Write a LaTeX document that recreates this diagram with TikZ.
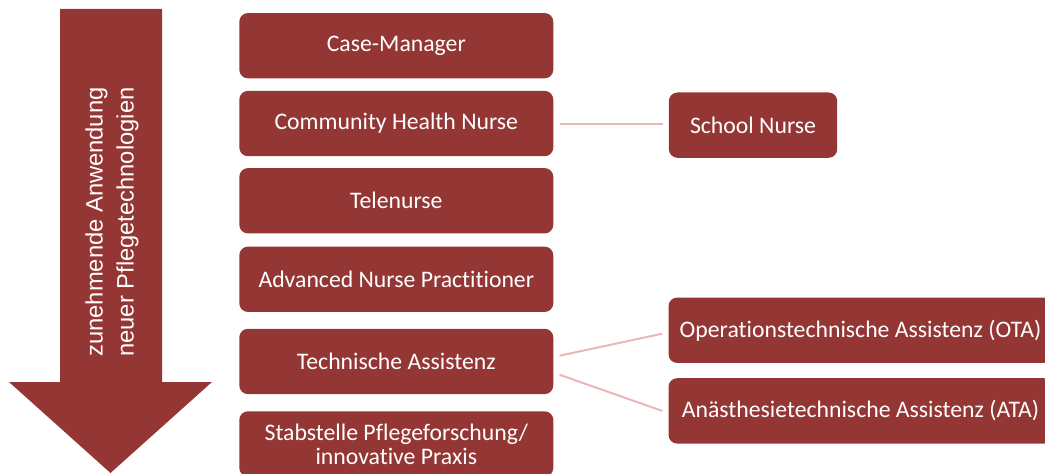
\documentclass[tikz,border=0pt]{standalone}
\usepackage{fontspec}
\setmainfont{Carlito}[Ligatures=NoCommon]
\newfontfamily\arrowfont{Liberation Sans}
\usetikzlibrary{positioning}
\definecolor{boxred}{HTML}{943634}
\definecolor{linkpink}{HTML}{E6B9B8}

\begin{document}
\begin{tikzpicture}[x=0.75pt, y=-0.75pt,
    node distance=9pt and 86pt,
    box/.style={fill=boxred, rounded corners=6.5pt, text=white, align=center,
      inner sep=0pt, minimum height=49pt, minimum width=#1,
      font=\fontsize{17.8}{21}\selectfont},
    box/.default=235.5pt,
    link/.style={draw=linkpink, line width=1.5pt}]
    \useasboundingbox (0,0) rectangle (1045,474);
    \clip (0,0) rectangle (1045,474);
    % big arrow on the left
    \fill[boxred] (60,9) -- (162,9) -- (162,382) -- (212,382) -- (110.5,473)
      -- (9,382) -- (60,382) -- cycle;
    \node[rotate=90, align=center, text=white,
      font=\arrowfont\fontsize{17.8}{23.3}\selectfont] (trend) at (112,222)
      {zunehmende Anwendung\\neuer Pflegetechnologien};
    % left column
    \node[box] (cm) at (396.3,45.7) {Case-Manager};
    \node[box, below=of cm] (chn) {Community Health Nurse};
    \node[box, below=8.5pt of chn] (tele) {Telenurse};
    \node[box, below=9.5pt of tele] (anp) {Advanced Nurse Practitioner};
    \node[box, below=12.2pt of anp] (ta) {Technische Assistenz};
    \node[box, below=12.5pt of ta, font=\fontsize{17.8}{18}\selectfont] (stab)
      {Stabstelle Pflegeforschung/\\innovative Praxis};
    % right column
    \node[box=126.3pt, right=86.25pt of chn, yshift=-1.2pt] (school) {School Nurse};
    \node[box=288pt, right=86pt of ta, yshift=23.4pt] (ota)
      {Operationstechnische Assistenz (OTA)};
    \node[box=288pt, right=86pt of ta, yshift=-37.1pt] (ata)
      {Anästhesietechnische Assistenz (ATA)};
    % links
    \draw[link] ([xshift=4.5pt]chn.east) -- ([xshift=-4.5pt]school.west |- chn.east);
    \draw[link] ([xshift=4.5pt,yshift=4.3pt]ta.east) -- ([xshift=-4.5pt,yshift=-2.6pt]ota.west);
    \draw[link] ([xshift=4.5pt,yshift=-10pt]ta.east) -- ([xshift=-4.5pt]ata.west);
\end{tikzpicture}
\end{document}
